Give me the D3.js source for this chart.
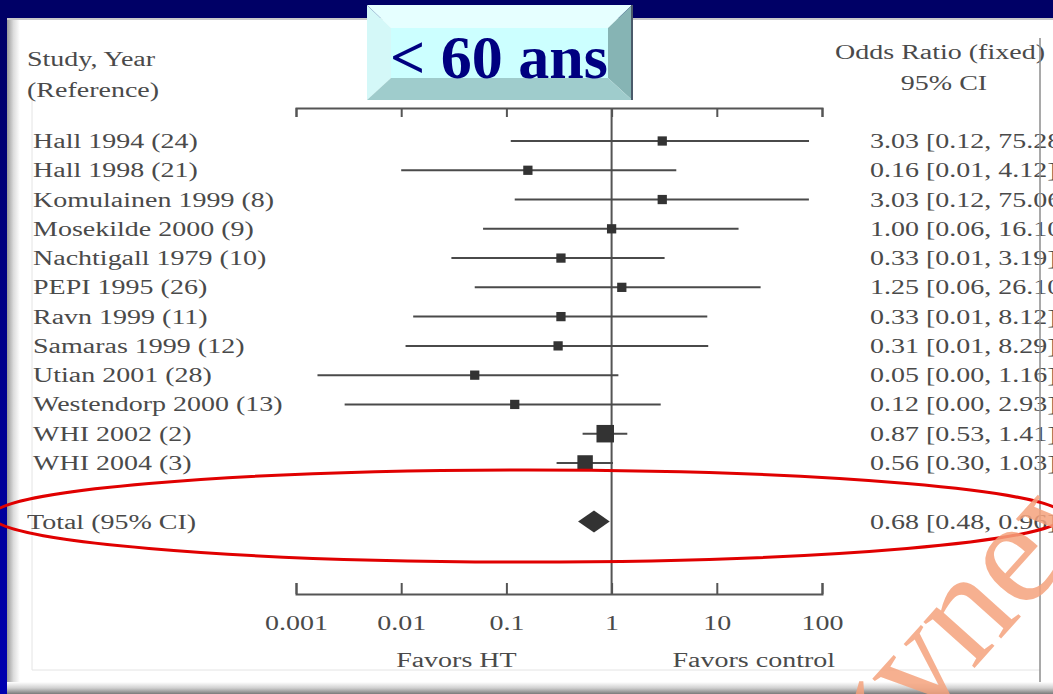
<!DOCTYPE html>
<meta charset="utf-8">
<style>
  body { margin: 0; background: #000066; }
  svg { display: block; }
  .lbl { font-family: "Liberation Serif", "Times New Roman", serif; font-size: 20px; fill: #4a4a4a; }
  .axis path, .axis line { stroke: #555; stroke-width: 2; }
  .axis text { font-family: "Liberation Serif", serif; font-size: 20px; fill: #4a4a4a; }
</style>
<svg width="1053" height="694"></svg>
<script src="https://d3js.org/d3.v7.min.js"></script>
<script>
  // studies, odds ratios and CI
  var studies = ["Hall 1994 (24)", "Hall 1998 (21)", "Komulainen 1999 (8)", "Mosekilde 2000 (9)",
    "Nachtigall 1979 (10)", "PEPI 1995 (26)", "Ravn 1999 (11)", "Samaras 1999 (12)",
    "Utian 2001 (28)", "Westendorp 2000 (13)", "WHI 2002 (2)", "WHI 2004 (3)"];
  var oddsRatio = [3.03, 0.16, 3.03, 1.00, 0.33, 1.25, 0.33, 0.31, 0.05, 0.12, 0.87, 0.56];
  var ciLow = [0.11, 0.01, 0.12, 0.06, 0.03, 0.05, 0.013, 0.011, 0.0016, 0.0029, 0.53, 0.30];
  var ciHigh = [75.28, 4.12, 75.06, 16.10, 3.19, 26.10, 8.12, 8.29, 1.16, 2.93, 1.41, 1.03];
  var ciText = ["3.03 [0.12, 75.28]", "0.16 [0.01, 4.12]", "3.03 [0.12, 75.06]", "1.00 [0.06, 16.10]",
    "0.33 [0.01, 3.19]", "1.25 [0.06, 26.10]", "0.33 [0.01, 8.12]", "0.31 [0.01, 8.29]",
    "0.05 [0.00, 1.16]", "0.12 [0.00, 2.93]", "0.87 [0.53, 1.41]", "0.56 [0.30, 1.03]"];
  // weights (%)
  var weights = [6.1, 6.1, 6.1, 6.1, 6.1, 6.1, 6.1, 6.1, 6.1, 6.1, 21.8, 17.0];
  var total = { label: "Total (95% CI)", or: 0.68, lo: 0.48, hi: 0.96, text: "0.68 [0.48, 0.96]" };
  var tickValues = [0.001, 0.01, 0.1, 1, 10, 100];
  var tickLabels = ["0.001", "0.01", "0.1", "1", "10", "100"];

  var svg = d3.select("svg");
  var defs = svg.append("defs");
  var SX = 1.4; // the source text is stretched horizontally

  function grad(id, vertical, stops) {
    var g = defs.append("linearGradient").attr("id", id)
      .attr("x1", 0).attr("y1", 0).attr("x2", vertical ? 0 : 1).attr("y2", vertical ? 1 : 0);
    stops.forEach(function(s) { g.append("stop").attr("offset", s[0]).attr("stop-color", s[1]); });
  }
  grad("leftStrip", true, [[0, "#000066"], [1, "#0000b0"]]);
  grad("leftBevel", false, [[0, "#9a9a9a"], [0.5, "#dcdcdc"], [1, "#ffffff"]]);
  grad("bottomBevel", true, [[0, "#ffffff"], [0.5, "#d0d0d0"], [1, "#7a7a7a"]]);

  // frame
  svg.append("rect").attr("width", 1053).attr("height", 694).attr("fill", "#000066");
  svg.append("rect").attr("x", 0).attr("y", 18).attr("width", 7).attr("height", 676).attr("fill", "url(#leftStrip)");
  svg.append("rect").attr("x", 7).attr("y", 18).attr("width", 1046).attr("height", 676).attr("fill", "#fff");
  svg.append("rect").attr("x", 7).attr("y", 18).attr("width", 13).attr("height", 676).attr("fill", "url(#leftBevel)");
  svg.append("rect").attr("x", 7).attr("y", 682).attr("width", 1046).attr("height", 12).attr("fill", "url(#bottomBevel)");
  svg.append("line").attr("x1", 7).attr("x2", 1053).attr("y1", 19).attr("y2", 19).attr("stroke", "#c8c8c8").attr("stroke-width", 2);
  svg.append("line").attr("x1", 32).attr("x2", 32).attr("y1", 100).attr("y2", 670).attr("stroke", "#e4e4e4");
  svg.append("line").attr("x1", 32).attr("x2", 1040).attr("y1", 670).attr("y2", 670).attr("stroke", "#e4e4e4");

  // scales
  var x = d3.scaleLog().domain([0.001, 100]).range([296, 822]);
  var y = d3.scaleLinear().domain([0, 13]).range([141, 521.5]);
  var size = d3.scaleSqrt().domain([0, 21.8]).range([0, 17.5]);

  function label(txt, px, py, anchor) {
    return svg.append("text").attr("class", "lbl")
      .attr("transform", "translate(" + px + "," + py + ") scale(" + SX + ",1)")
      .attr("text-anchor", anchor || "start")
      .text(txt);
  }

  // headers
  label("Study, Year", 27, 66);
  label("(Reference)", 27, 97);
  label("Odds Ratio (fixed)", 940, 59, "middle");
  label("95% CI", 944, 90, "middle");

  // axes
  var topAxis = d3.axisBottom(x).tickValues(tickValues).tickFormat("").tickSize(9).tickSizeOuter(9);
  svg.append("g").attr("class", "axis").attr("transform", "translate(0,108)").call(topAxis);

  var bottomAxis = d3.axisBottom(x).tickValues(tickValues)
    .tickFormat(function(d, i) { return tickLabels[i]; })
    .tickSize(-11).tickSizeOuter(-11).tickPadding(22);
  var gb = svg.append("g").attr("class", "axis").attr("transform", "translate(0,594)").call(bottomAxis);
  gb.selectAll("text").attr("transform", "scale(" + SX + ",1)");

  label("Favors HT", x(0.1) - 50, 667, "middle");
  label("Favors control", x(10) + 37, 667, "middle");

  // line of no effect
  svg.append("line").attr("x1", x(1)).attr("x2", x(1)).attr("y1", 108).attr("y2", 594)
    .attr("stroke", "#555").attr("stroke-width", 2);

  // study rows
  var rows = svg.append("g").selectAll("g").data(studies).join("g");
  rows.append("line")
    .attr("x1", function(d, i) { return x(ciLow[i]); })
    .attr("x2", function(d, i) { return x(ciHigh[i]); })
    .attr("y1", function(d, i) { return y(i); })
    .attr("y2", function(d, i) { return y(i); })
    .attr("stroke", "#4a4a4a").attr("stroke-width", 2);
  rows.append("rect")
    .attr("x", function(d, i) { return x(oddsRatio[i]) - size(weights[i]) / 2; })
    .attr("y", function(d, i) { return y(i) - size(weights[i]) / 2; })
    .attr("width", function(d, i) { return size(weights[i]); })
    .attr("height", function(d, i) { return size(weights[i]); })
    .attr("fill", "#333");
  rows.each(function(d, i) {
    label(d, 33, y(i) + 7);
    label(ciText[i], 870, y(i) + 7);
  });

  // total
  var ty = y(13);
  svg.append("path")
    .attr("d", "M" + x(total.lo) + "," + ty + "L" + x(total.or) + "," + (ty - 11) +
      "L" + x(total.hi) + "," + ty + "L" + x(total.or) + "," + (ty + 11) + "Z")
    .attr("fill", "#333");
  label(total.label, 27, ty + 7);
  label(total.text, 870, ty + 7);

  // right inner border (over the clipped text)
  svg.append("line").attr("x1", 1040).attr("x2", 1040).attr("y1", 38).attr("y2", 682)
    .attr("stroke", "#8c8c8c").attr("stroke-width", 1.5);

  // title box
  var tb = svg.append("g");
  tb.append("polygon").attr("points", "367,5 632,5 608,28 391,28").attr("fill", "#e6ffff");
  tb.append("polygon").attr("points", "367,5 391,28 391,78 367,100").attr("fill", "#d4f8f8");
  tb.append("polygon").attr("points", "632,5 632,100 608,78 608,28").attr("fill", "#86b4b4");
  tb.append("polygon").attr("points", "367,100 632,100 608,78 391,78").attr("fill", "#9fcccc");
  tb.append("rect").attr("x", 391).attr("y", 28).attr("width", 217).attr("height", 50).attr("fill", "#ccffff");
  tb.append("line").attr("x1", 632).attr("x2", 632).attr("y1", 5).attr("y2", 100).attr("stroke", "#4a5a6a").attr("stroke-width", 2);
  tb.append("text").attr("x", 499).attr("y", 78).attr("text-anchor", "middle")
    .style("font-family", "'Liberation Serif', serif").style("font-weight", "bold")
    .style("font-size", "62px").attr("fill", "#000080").text("< 60 ans");

  // red ellipse highlight
  svg.append("ellipse").attr("cx", 528).attr("cy", 516).attr("rx", 536).attr("ry", 46)
    .attr("fill", "none").attr("stroke", "#e00000").attr("stroke-width", 3);

  // watermark
  svg.append("text").attr("transform", "translate(872,782) rotate(-48)")
    .style("font-family", "'Liberation Serif', serif").style("font-size", "150px")
    .attr("fill", "#f4a27c").attr("fill-opacity", 0.85).text("gyneweb");
</script>
